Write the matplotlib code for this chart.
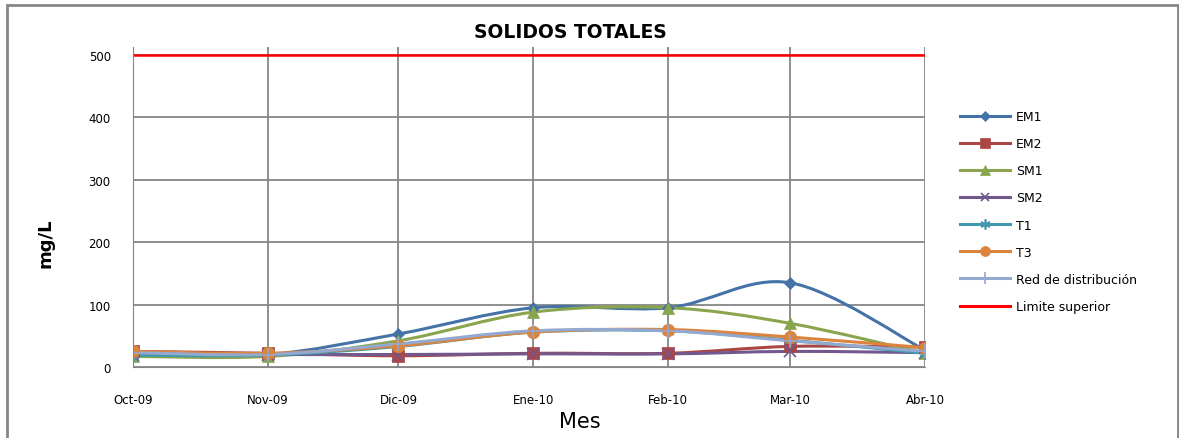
import numpy as np
import matplotlib
matplotlib.use("Agg")
import matplotlib.pyplot as plt
import matplotlib.dates as mdates
from matplotlib.path import Path
from matplotlib.patches import PathPatch, Rectangle
from matplotlib.lines import Line2D
from datetime import date

# data
months = [date(2009, 10, 1), date(2009, 11, 1), date(2009, 12, 1), date(2010, 1, 1),
          date(2010, 2, 1), date(2010, 3, 1), date(2010, 4, 1)]
month_labels = ["Oct-09", "Nov-09", "Dic-09", "Ene-10", "Feb-10", "Mar-10", "Abr-10"]
em1 = [20, 20, 53, 95, 95, 135, 27]
em2 = [25, 22, 18, 22, 22, 33, 32]
sm1 = [17, 17, 42, 88, 95, 70, 22]
sm2 = [20, 20, 20, 21, 21, 25, 23]
t1 = [19, 19, 33, 56, 58, 43, 22]
t3 = [25, 22, 34, 56, 60, 48, 31]
red = [23, 20, 37, 58, 58, 42, 25]
limite = 500

series = [
    ("EM1", em1, "#4572A7", "D", 6),
    ("EM2", em2, "#AA4643", "s", 9),
    ("SM1", sm1, "#89A54E", "^", 9),
    ("SM2", sm2, "#71588F", "x", 8),
    ("T1", t1, "#4198AF", (6, 2, 0), 9),
    ("T3", t3, "#DB843D", "o", 9),
    ("Red de distribución", red, "#93A9CF", "+", 10),
]

x = mdates.date2num(months)


def smooth_path(xs, ys):
    # Excel style smoothed line: cubic bezier through the points
    xs = np.asarray(xs, float)
    ys = np.asarray(ys, float)
    n = len(xs)
    verts = [(xs[0], ys[0])]
    codes = [Path.MOVETO]
    for i in range(n - 1):
        p0 = max(i - 1, 0)
        p3 = min(i + 2, n - 1)
        c1 = (xs[i] + (xs[i + 1] - xs[p0]) / 6, ys[i] + (ys[i + 1] - ys[p0]) / 6)
        c2 = (xs[i + 1] - (xs[p3] - xs[i]) / 6, ys[i + 1] - (ys[p3] - ys[i]) / 6)
        verts += [c1, c2, (xs[i + 1], ys[i + 1])]
        codes += [Path.CURVE4] * 3
    return Path(verts, codes)


fig = plt.figure(figsize=(11.79, 4.39), dpi=100)
ax = fig.add_axes([133 / 1179, 1 - 368 / 439, (925 - 133) / 1179, (368 - 48) / 439])

# outer frame of the chart
fig.patches.append(Rectangle((7 / 1179, -0.05), 1171 / 1179, 1.05 - 6 / 439,
                             transform=fig.transFigure, fill=False,
                             edgecolor="#868686", linewidth=2))

handles = []
for name, vals, col, mk, ms in series:
    ax.add_patch(PathPatch(smooth_path(x, vals), fill=False, edgecolor=col,
                           linewidth=2.2, capstyle="round", joinstyle="round"))
    mew = 1.2 if mk in ("x", "+") or isinstance(mk, tuple) else 0.5
    ax.plot(x, vals, linestyle="none", marker=mk, markersize=ms, color=col,
            markeredgecolor=col, markeredgewidth=mew)
    handles.append(Line2D([], [], color=col, linewidth=2.2, marker=mk,
                          markersize=ms * 0.8, markeredgewidth=mew))

ax.plot([x[0], x[-1]], [limite, limite], color="#FF0000", linewidth=1.8)
handles.append(Line2D([], [], color="#FF0000", linewidth=2.2))

ax.set_xlim(x[0], x[-1])
ax.set_ylim(0, 513)
ax.set_xticks(x)
ax.set_xticklabels(month_labels)
ax.set_yticks([0, 100, 200, 300, 400, 500])
ax.tick_params(length=0, labelsize=8.5, colors="black")
ax.tick_params(axis="x", pad=19)
ax.tick_params(axis="y", pad=16)
ax.grid(True, color="#868686", linewidth=1.3)
ax.set_axisbelow(True)
for sp in ax.spines.values():
    sp.set_visible(False)
ax.spines["left"].set_visible(True)
ax.spines["left"].set_color("#868686")
ax.spines["bottom"].set_visible(True)
ax.spines["bottom"].set_color("#868686")

fig.text(570 / 1179, 1 - 33 / 439, "SOLIDOS TOTALES", ha="center", va="center",
         fontsize=13.5, fontweight="bold")
fig.text(45 / 1179, 1 - 243 / 439, "mg/L", ha="center", va="center",
         fontsize=13, fontweight="bold", rotation=90)
fig.text(580 / 1179, 1 - 422 / 439, "Mes", ha="center", va="center", fontsize=15)

labels = [s[0] for s in series] + ["Limite superior"]
fig.legend(handles, labels, loc="upper left",
           bbox_to_anchor=(960 / 1179, 1 - 111 / 439), frameon=False,
           fontsize=9, handlelength=4.0, handletextpad=0.5, labelspacing=1.13,
           borderpad=0, borderaxespad=0)

fig.savefig("out.png", dpi=100)
